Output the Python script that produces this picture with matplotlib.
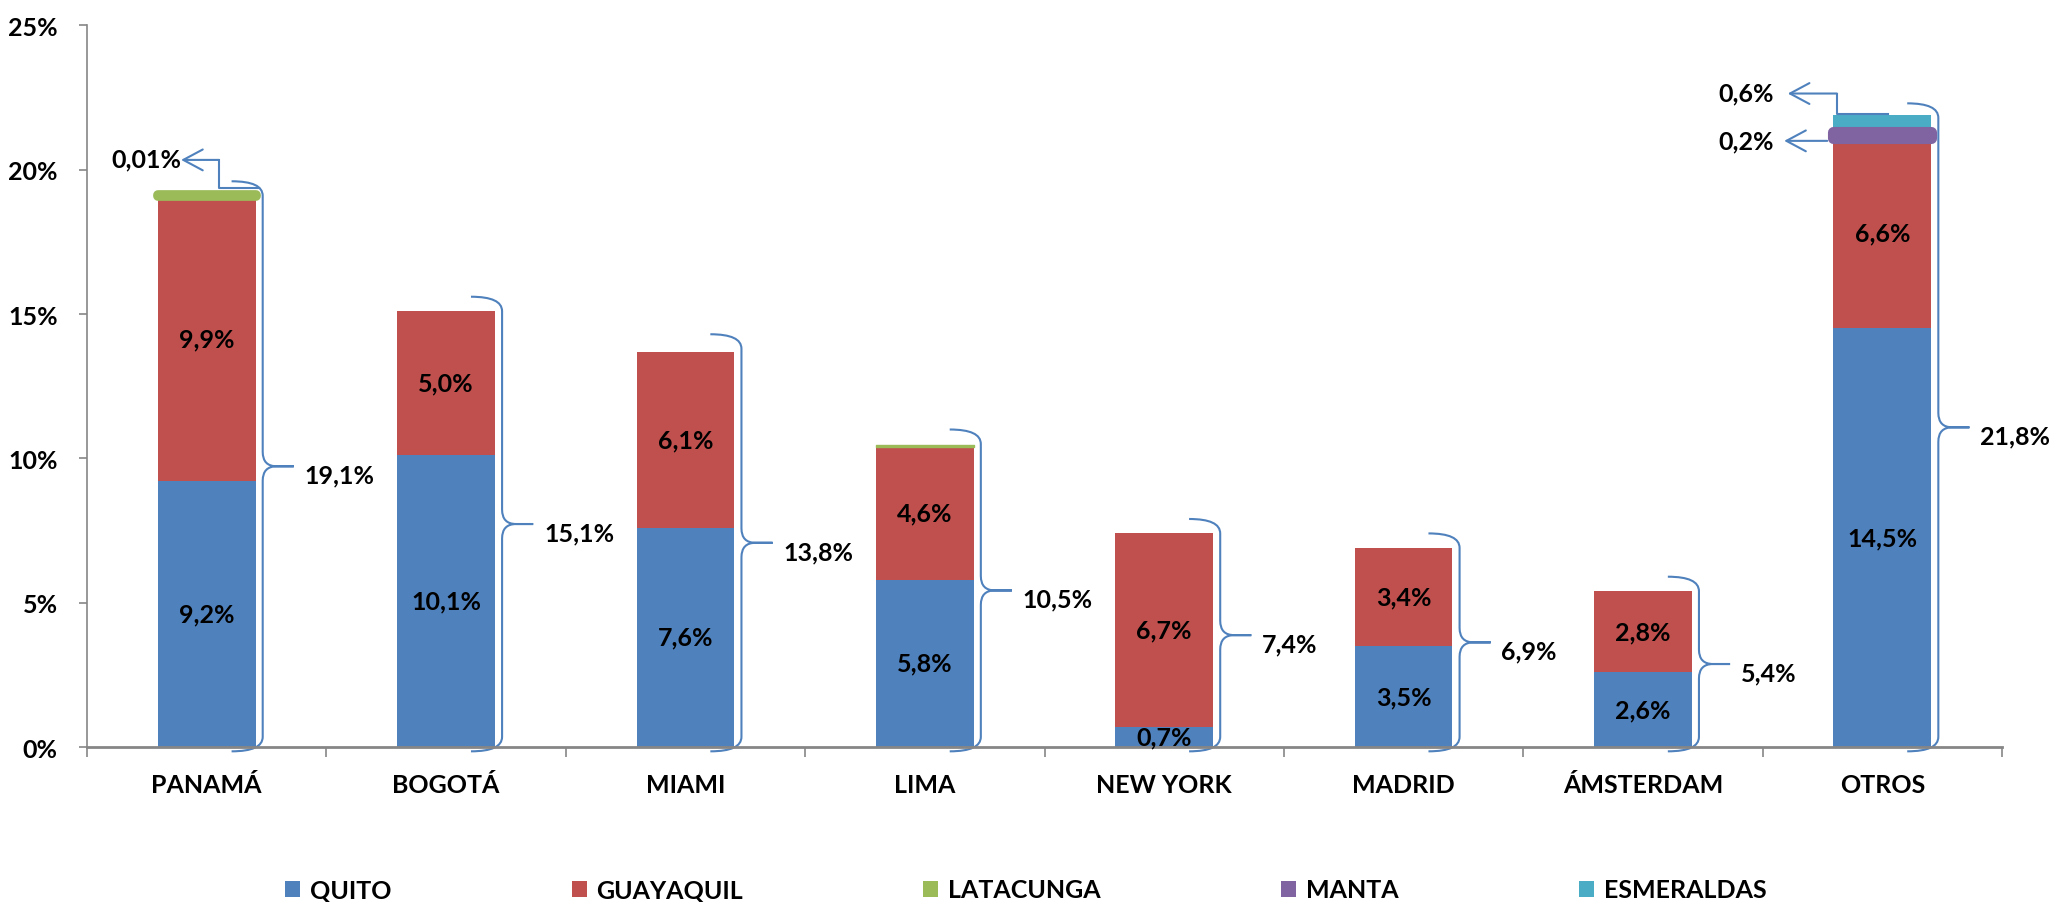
import numpy as np
import matplotlib.pyplot as plt
from matplotlib.path import Path
from matplotlib.patches import PathPatch, Patch

# datos (% del total)
ciudades = ['PANAMÁ', 'BOGOTÁ', 'MIAMI', 'LIMA', 'NEW YORK', 'MADRID', 'ÁMSTERDAM', 'OTROS']
quito = [9.2, 10.1, 7.6, 5.8, 0.7, 3.5, 2.6, 14.5]
guayaquil = [9.9, 5.0, 6.1, 4.6, 6.7, 3.4, 2.8, 6.6]
latacunga = [0.01, 0, 0, 0.05, 0, 0, 0, 0]
manta = [0, 0, 0, 0, 0, 0, 0, 0.2]
esmeraldas = [0, 0, 0, 0, 0, 0, 0, 0.6]
totales = [19.1, 15.1, 13.8, 10.5, 7.4, 6.9, 5.4, 21.8]

series = ['QUITO', 'GUAYAQUIL', 'LATACUNGA', 'MANTA', 'ESMERALDAS']
colores = ['#4F81BD', '#C0504D', '#9BBB59', '#8064A2', '#4BACC6']
azul_linea = '#4F81BD'

plt.rcParams['font.family'] = ['Lato', 'DejaVu Sans']
plt.rcParams['font.weight'] = 'bold'
FS = 18


def pct(v, dec=1):
    return f'{v:.{dec}f}'.replace('.', ',') + '%'


def llave(ax, x, y0, y1, w=0.13, r=0.5):
    ym = (y0 + y1) / 2
    verts = [(x - w, y1), (x, y1), (x, y1 - r),
             (x, ym + r), (x, ym), (x + w * 0.45, ym),
             (x + w, ym), (x + w * 0.45, ym),
             (x, ym), (x, ym - r),
             (x, y0 + r), (x, y0), (x - w, y0)]
    codes = [Path.MOVETO, Path.CURVE3, Path.CURVE3,
             Path.LINETO, Path.CURVE3, Path.CURVE3,
             Path.LINETO, Path.LINETO,
             Path.CURVE3, Path.CURVE3,
             Path.LINETO, Path.CURVE3, Path.CURVE3]
    ax.add_patch(PathPatch(Path(verts, codes), fill=False, edgecolor=azul_linea,
                           lw=1.5, clip_on=False))
    return x + w, ym


fig = plt.figure(figsize=(20.69, 9.03), dpi=100)
ax = fig.add_axes([0.04205, 0.17165, 0.92557, 0.79911])

x = np.arange(len(ciudades))
ancho = 0.408
base = np.zeros(len(ciudades))
valores = [quito, guayaquil, latacunga, manta, esmeraldas]
for nombre, vals, col in zip(series, valores, colores):
    vals = np.array(vals)
    m = vals > 0
    if nombre == 'LATACUNGA':
        # segmento muy pequeño resaltado en Panamá, linea fina en Lima
        grosor = np.where(vals[m] < 0.02, 7, 1)
        ax.bar(x[m], vals[m], ancho, bottom=base[m], color=col, edgecolor=col,
               linewidth=grosor, joinstyle='round', zorder=2)
    elif nombre == 'MANTA':
        ax.bar(x[m], vals[m], ancho, bottom=base[m], color=col, edgecolor=col,
               lw=8, joinstyle='round', zorder=3)
    else:
        ax.bar(x[m], vals[m], ancho, bottom=base[m], color=col, edgecolor='none', zorder=2)
    base += vals

# etiquetas de segmento (Quito y Guayaquil)
for i in x:
    ax.text(i, quito[i] / 2, pct(quito[i]), ha='center', va='center', fontsize=FS, zorder=5)
    ax.text(i, quito[i] + guayaquil[i] / 2, pct(guayaquil[i]), ha='center', va='center',
            fontsize=FS, zorder=5)

# llaves con totales
for i in x:
    xt, ym = llave(ax, i + ancho / 2 + 0.03, -0.15, totales[i] + 0.5)
    ax.text(xt + 0.045, ym - 0.3, pct(totales[i]), ha='left', va='center', fontsize=FS)


def flecha(pts, etiqueta, pos):
    xs, ys = zip(*pts)
    ax.plot(xs[:-1], ys[:-1], color=azul_linea, lw=1.5, clip_on=False, zorder=4)
    ax.annotate('', xy=pts[-1], xytext=pts[-2],
                arrowprops=dict(arrowstyle='->,head_length=1.4,head_width=0.75',
                                mutation_scale=10, color=azul_linea, lw=1.5,
                                shrinkA=0, shrinkB=0), annotation_clip=False)
    ax.text(pos[0], pos[1], etiqueta, ha='center', va='center', fontsize=FS)


# Latacunga en Panamá
t0 = quito[0] + guayaquil[0] + latacunga[0]
flecha([(0 + 0.22, t0 + 0.26), (0.05, t0 + 0.26), (0.05, t0 + 1.23), (-0.107, t0 + 1.23)],
       pct(latacunga[0], 2), (-0.25, t0 + 1.26))
# Esmeraldas y Manta en Otros
t7 = quito[7] + guayaquil[7] + manta[7] + esmeraldas[7]
flecha([(7 + 0.023, t7 + 0.03), (7 - 0.19, t7 + 0.03), (7 - 0.19, t7 + 0.74), (7 - 0.395, t7 + 0.74)],
       pct(esmeraldas[7]), (7 - 0.57, t7 + 0.77))
m7 = quito[7] + guayaquil[7] + manta[7] / 2
flecha([(7 - 0.23, m7 - 0.2), (7 - 0.41, m7 - 0.2)], pct(manta[7]), (7 - 0.57, m7 - 0.2))

# ejes
gris = '#868686'
ax.set_xlim(-0.5, 7.5)
ax.set_ylim(0, 25)
ax.set_yticks(np.arange(0, 26, 5))
ax.set_yticklabels([f'{v}%' for v in range(0, 26, 5)])
ax.set_xticks(x)
ax.set_xticklabels(ciudades)
ax.set_xticks(np.arange(-0.5, 8, 1), minor=True)
ax.tick_params(axis='x', which='major', length=0, pad=19, labelsize=FS)
ax.tick_params(axis='x', which='minor', length=7, width=1.2, color=gris, direction='out')
ax.tick_params(axis='y', length=6, width=1.2, color=gris, pad=15, labelsize=FS)
for s in ('top', 'right'):
    ax.spines[s].set_visible(False)
ax.spines['left'].set_color(gris)
ax.spines['left'].set_linewidth(1.2)
ax.spines['bottom'].set_color(gris)
ax.spines['bottom'].set_linewidth(2)
ax.spines['bottom'].set_zorder(3)

handles = [Patch(facecolor=c, edgecolor='none') for c in colores]
fig.legend(handles, series, ncol=5, loc='center', bbox_to_anchor=(0.4957, 12 / 903),
           frameon=False, fontsize=FS, handlelength=0.6, handleheight=0.6,
           handletextpad=0.4, columnspacing=7.2)

fig.savefig('out.png', dpi=100)
